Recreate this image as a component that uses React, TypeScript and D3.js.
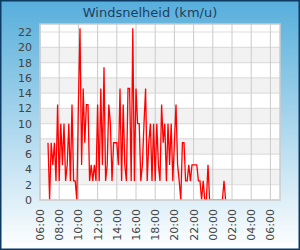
import React from "react";
import * as d3 from "d3";

const TITLE = "Windsnelheid (km/u)";
const START = new Date(2020, 0, 1, 6, 0);
const END = new Date(2020, 0, 2, 7, 0);
const FIRST_SAMPLE = new Date(2020, 0, 1, 6, 50);
const STEP_MIN = 10;
const yTicks = [0, 2, 4, 6, 8, 10, 12, 14, 16, 18, 20, 22];
const windValues = [
  7.5, 0, 7.5, 4.6, 7.5, 2.5, 12.5, 2.5, 10, 4.6,
  10, 2.5, 4.6, 10, 2.5, 12.5, 2.5, 2.5, 0, 12.5,
  22.5, 4.6, 14.6, 7.5, 12.5, 12.5, 2.5, 4.6, 2.5, 4.6,
  2.5, 12.5, 2.5, 14.6, 4.6, 17.4, 2.5, 4.6, 12.5, 10,
  2.5, 7.5, 7.5, 7.5, 4.6, 14.6, 2.5, 12.5, 4.6, 2.5,
  14.6, 14.6, 2.5, 22.5, 2.5, 14.6, 10, 10, 2.5, 4.6,
  10, 14.6, 2.5, 7.5, 10, 2.5, 10, 2.5, 10, 4.6,
  2.5, 12.5, 7.5, 10, 2.5, 10, 4.6, 10, 2.5, 7.5,
  12.5, 4.6, 2.5, 0, 7.5, 7.5, 2.5, 2.5, 4.6, 2.5,
  4.6, 4.6, 4.6, 4.6, 2.5, 2.5, 0, 2.5, 0, 0,
  4.6, 0, 0, 0, 0, 0, 0, 0, 0, 0,
  2.5, 0,
];

const W = 300, H = 250;
const L = 40, R = 280, T = 24, B = 200;

export default function App() {
  const x = d3.scaleTime().domain([START, END]).range([L, R]);
  const y = d3.scaleLinear().domain([0, 23.05]).range([B, T]);
  const data = windValues.map((v, i) => ({
    t: new Date(FIRST_SAMPLE.getTime() + i * STEP_MIN * 60000),
    v,
  }));
  const line = d3
    .line<{ t: Date; v: number }>()
    .x((d) => x(d.t))
    .y((d) => y(d.v));
  const xTicks = d3.timeHour.every(2)!.range(START, new Date(END.getTime() + 1));
  const fmt = d3.timeFormat("%H:%M");
  const font = "DejaVu Sans, Verdana, sans-serif";

  const bands: number[] = [];
  for (let i = 0; i < yTicks.length - 1; i++) bands.push(yTicks[i]);

  return (
    <svg
      width={W}
      height={H}
      style={{ position: "absolute", left: 0, top: 0 }}
      xmlns="http://www.w3.org/2000/svg"
    >
      <defs>
        <linearGradient id="bg" x1="0" y1="0" x2="0" y2="1">
          <stop offset="0" stopColor="#56aedb" />
          <stop offset="1" stopColor="#ffffff" />
        </linearGradient>
        <clipPath id="plotclip">
          <rect x={L} y={T} width={R - L} height={B - T} />
        </clipPath>
      </defs>
      <rect x={0} y={0} width={W} height={H} fill="url(#bg)" />
      <rect x={0.75} y={0.75} width={W - 1.5} height={H - 1.5} fill="none" stroke="#0c3a62" strokeWidth={1.5} />
      <text x={150} y={16.5} textAnchor="middle" fontFamily={font} fontSize={13} fill="#1d3f60">
        {TITLE}
      </text>
      <rect x={L} y={T} width={R - L} height={B - T} fill="#ffffff" />
      {bands.map((v, i) =>
        i % 2 === 1 ? (
          <rect key={"b" + v} x={L} y={y(v + 2)} width={R - L} height={y(v) - y(v + 2)} fill="#f2f2f2" />
        ) : null
      )}
      {yTicks.map((v) => (
        <line key={"h" + v} x1={L} x2={R} y1={y(v)} y2={y(v)} stroke="#dedede" strokeWidth={1.2} />
      ))}
      {xTicks.map((t) => (
        <line key={"v" + t.getTime()} x1={x(t)} x2={x(t)} y1={T} y2={B} stroke="#cacaca" strokeWidth={1} />
      ))}
      <path d={line(data) || ""} fill="none" stroke="#ff0000" strokeWidth={1.3} clipPath="url(#plotclip)" strokeLinejoin="miter" />
      <rect x={L} y={T} width={R - L} height={B - T} fill="none" stroke="#cccccc" strokeWidth={1.5} />
      {yTicks.map((v) => (
        <text key={"yl" + v} x={32} y={y(v)} dy="0.36em" textAnchor="end" fontFamily={font} fontSize={11} fill="#444">
          {v}
        </text>
      ))}
      {xTicks.map((t) => (
        <text
          key={"xl" + t.getTime()}
          transform={`translate(${x(t)},209) rotate(-90)`}
          textAnchor="end"
          dy="0.36em"
          fontFamily={font}
          fontSize={11}
          fill="#444"
        >
          {fmt(t)}
        </text>
      ))}
    </svg>
  );
}
